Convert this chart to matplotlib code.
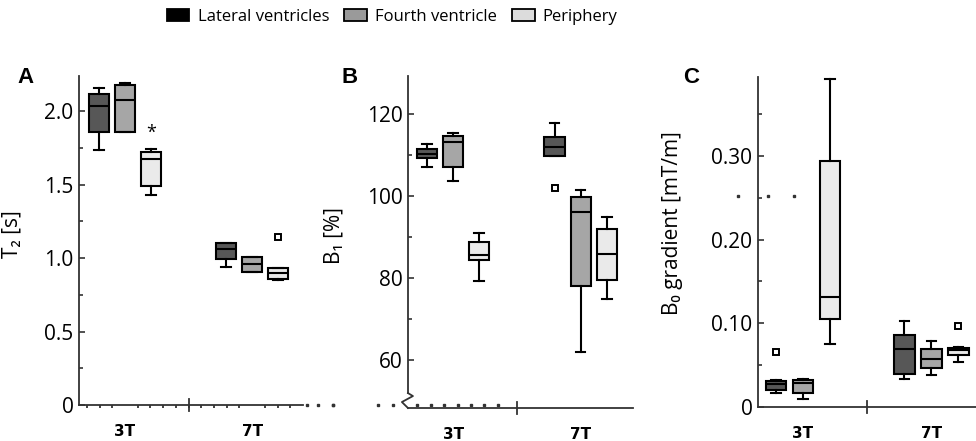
import numpy as np
import matplotlib
matplotlib.use("Agg")
import matplotlib.pyplot as plt
from matplotlib.patches import Patch
from matplotlib.ticker import FixedLocator

plt.rcParams['font.family'] = ['Open Sans', 'DejaVu Sans']

groups = ['3T', '7T']
regions = ['Lateral ventricles', 'Fourth ventricle', 'Periphery']
box_colors = ['#575757', '#a6a6a6', '#eaeaea']
legend_colors = ['#000000', '#9a9a9a', '#dcdcdc']

# (whislo, q1, med, q3, whishi) per box: 3T lat, 3T 4th, 3T per, 7T lat, 7T 4th, 7T per
t2_stats = [
    [1.735, 1.860, 2.036, 2.115, 2.160],
    [1.857, 1.857, 2.077, 2.180, 2.195],
    [1.433, 1.490, 1.673, 1.723, 1.741],
    [0.943, 0.995, 1.059, 1.104, 1.104],
    [0.905, 0.905, 0.957, 1.009, 1.009],
    [0.850, 0.859, 0.898, 0.932, 0.932],
]
t2_fliers = [[], [], [], [], [], [1.145]]
t2_extremes = [[], [], [1.85], [], [], []]

b1_stats = [
    [107.2, 109.2, 110.3, 111.6, 112.6],
    [103.7, 107.2, 113.3, 114.7, 115.4],
    [79.3, 84.3, 85.6, 88.8, 90.9],
    [109.8, 109.8, 112.0, 114.5, 117.9],
    [62.0, 78.0, 96.1, 99.8, 101.6],
    [75.0, 79.5, 85.8, 91.9, 95.0],
]
b1_fliers = [[], [], [], [101.9], [], []]

b0_stats = [
    [0.017, 0.0207, 0.027, 0.031, 0.032],
    [0.010, 0.017, 0.029, 0.0327, 0.034],
    [0.0756, 0.105, 0.131, 0.2936, 0.392],
    [0.0339, 0.039, 0.0692, 0.0864, 0.1023],
    [0.0387, 0.0465, 0.0573, 0.0689, 0.0784],
    [0.0537, 0.0617, 0.0677, 0.0709, 0.0716],
]
b0_fliers = [[0.0656], [], [], [], [], [0.0967]]

axis_col = '#333333'


def draw_boxes(ax, stats, fliers, spacing=0.205):
    positions = []
    for g in range(len(groups)):
        for r in range(len(regions)):
            positions.append(g + 1 + (r - 1) * spacing)
    bxp = []
    for s, f in zip(stats, fliers):
        bxp.append(dict(whislo=s[0], q1=s[1], med=s[2], q3=s[3], whishi=s[4], fliers=f))
    art = ax.bxp(bxp, positions=positions, widths=0.157, capwidths=0.075,
                 patch_artist=True, manage_ticks=False,
                 boxprops=dict(linewidth=1.5, edgecolor='black'),
                 medianprops=dict(color='black', linewidth=1.5),
                 whiskerprops=dict(linewidth=1.5),
                 capprops=dict(linewidth=1.5),
                 flierprops=dict(marker='s', markerfacecolor='white', markeredgecolor='black',
                                 markersize=5, markeredgewidth=1.4))
    for i, patch in enumerate(art['boxes']):
        patch.set_facecolor(box_colors[i % 3])
    return positions


def style_axes(ax, xlim):
    ax.set_xlim(*xlim)
    for side in ['top', 'right']:
        ax.spines[side].set_visible(False)
    for side in ['left', 'bottom']:
        ax.spines[side].set_color(axis_col)
        ax.spines[side].set_linewidth(1.3)
    ax.set_xticks([1, 2])
    ax.set_xticklabels(groups, fontsize=11, fontweight='bold', family='DejaVu Sans')
    ax.tick_params(axis='x', which='major', length=0, pad=14)
    ax.tick_params(axis='y', which='major', direction='in', length=4, width=1.2,
                   color=axis_col, labelsize=15, pad=4)
    ax.tick_params(axis='y', which='minor', direction='in', length=3, width=1.2, color=axis_col)
    ax.axvline(1.5, ymin=-0.018, ymax=0.018, color=axis_col, lw=1.3, clip_on=False)


fig = plt.figure(figsize=(9.76, 4.41), dpi=100)

# Panel A
axA = fig.add_axes([0.0809, 0.0816, 0.2295, 0.746])
posA = draw_boxes(axA, t2_stats, t2_fliers)
for p, ex in zip(posA, t2_extremes):
    for v in ex:
        axA.text(p, v, '*', ha='center', va='center', fontsize=13)
axA.set_ylim(0, 2.24)
style_axes(axA, (0.638, 2.40))
axA.set_yticks([0, 0.5, 1.0, 1.5, 2.0])
axA.set_yticklabels(['0', '0.5', '1.0', '1.5', '2.0'])
axA.yaxis.set_minor_locator(FixedLocator([0.25, 0.75, 1.25, 1.75]))
axA.xaxis.set_minor_locator(FixedLocator(np.arange(0.7, 2.4, 0.1)))
axA.tick_params(axis='x', which='minor', direction='out', length=2, width=1.3, color=axis_col)
axA.plot([2.43, 2.52, 2.64], [0, 0, 0], ls='none', marker='s', ms=1.5, color=axis_col, clip_on=False)
axA.set_ylabel('T₂ [s]', fontsize=15)
axA.yaxis.set_label_coords(-0.254, 0.52)

# Panel B
axB = fig.add_axes([0.418, 0.0748, 0.2305, 0.753])
draw_boxes(axB, b1_stats, b1_fliers)
axB.set_ylim(48.3, 129.3)
style_axes(axB, (0.646, 2.41))
axB.spines['left'].set_bounds(51.9, 129.3)
axB.set_yticks([60, 80, 100, 120])
axB.yaxis.set_minor_locator(FixedLocator([70, 90, 110]))
axB.plot([0.0, 0.022, -0.027, 0.0], [0.045, 0.036, 0.018, 0.0], color=axis_col, lw=1.3,
         transform=axB.transAxes, clip_on=False)
axB.plot(np.arange(0.72, 1.45, 0.105), np.full(7, 49.0), ls='none', marker='s', ms=1.5,
         color=axis_col, clip_on=False)
axB.plot([0.055, 0.41, 0.53], [49.0, 49.0, 49.0], ls='none', marker='s', ms=1.5,
         color=axis_col, clip_on=False)
axB.set_ylabel('B₁ [%]', fontsize=15)
axB.yaxis.set_label_coords(-0.28, 0.52)

# Panel C
axC = fig.add_axes([0.7766, 0.0771, 0.2305, 0.748])
draw_boxes(axC, b0_stats, b0_fliers, spacing=0.21)
axC.set_ylim(0, 0.394)
style_axes(axC, (0.651, 2.40))
axC.set_yticks([0, 0.1, 0.2, 0.3])
axC.set_yticklabels(['0', '0.10', '0.20', '0.30'])
axC.yaxis.set_minor_locator(FixedLocator([0.05, 0.15, 0.25, 0.35]))
axC.plot([0.496, 0.73, 0.93], [0.2526] * 3, ls='none', marker='s', ms=1.5,
         color=axis_col, clip_on=False)
axC.set_ylabel('B₀ gradient [mT/m]', fontsize=15)
axC.yaxis.set_label_coords(-0.333, 0.556)

# panel letters
for x, letter in [(0.0174, 'A'), (0.350, 'B'), (0.700, 'C')]:
    fig.text(x, 0.812, letter, fontsize=16, fontweight='bold', family='Liberation Sans')

handles = [Patch(facecolor=c, edgecolor='black' if i else c, linewidth=1.3)
           for i, c in enumerate(legend_colors)]
fig.legend(handles, regions, loc='center', bbox_to_anchor=(0.402, 0.962), ncol=3,
           frameon=False, fontsize=12, handlelength=1.35, handleheight=0.8,
           handletextpad=0.5, columnspacing=0.9, borderpad=0)

fig.savefig('out.png', dpi=100)
